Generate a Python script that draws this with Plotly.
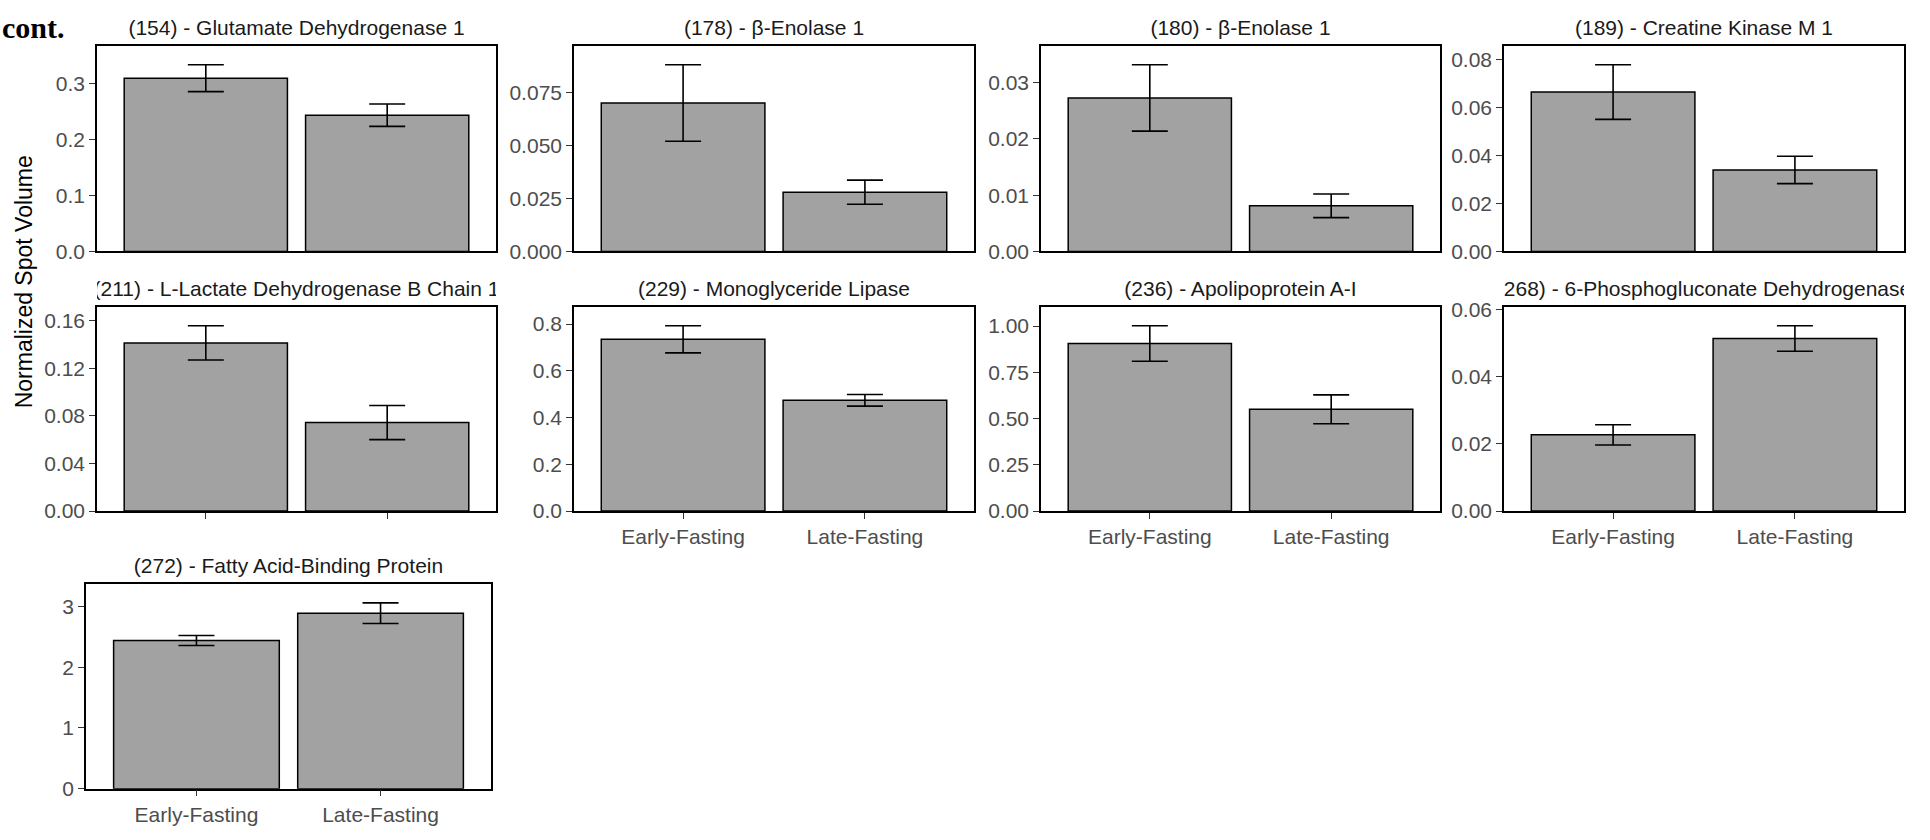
import plotly.graph_objects as go

# ---------------- data ----------------
groups = ["Early-Fasting", "Late-Fasting"]

panel_titles = [
    "(154) - Glutamate Dehydrogenase 1",
    "(178) - β-Enolase 1",
    "(180) - β-Enolase 1",
    "(189) - Creatine Kinase M 1",
    "(211) - L-Lactate Dehydrogenase B Chain 1",
    "(229) - Monoglyceride Lipase",
    "(236) - Apolipoprotein A-I",
    "(268) - 6-Phosphogluconate Dehydrogenase",
    "(272) - Fatty Acid-Binding Protein",
]

mean_early = [0.309, 0.0702, 0.0273, 0.0665, 0.1414, 0.735, 0.906, 0.0227, 2.44]
mean_late = [0.243, 0.0280, 0.0081, 0.0340, 0.0744, 0.474, 0.550, 0.0514, 2.89]
se_early = [0.024, 0.0181, 0.0059, 0.0114, 0.0144, 0.058, 0.096, 0.0030, 0.083]
se_late = [0.020, 0.0057, 0.0021, 0.0057, 0.0143, 0.025, 0.078, 0.0038, 0.170]

ytick_vals = [
    [0, 0.1, 0.2, 0.3],
    [0, 0.025, 0.05, 0.075],
    [0, 0.01, 0.02, 0.03],
    [0, 0.02, 0.04, 0.06, 0.08],
    [0, 0.04, 0.08, 0.12, 0.16],
    [0, 0.2, 0.4, 0.6, 0.8],
    [0, 0.25, 0.5, 0.75, 1.0],
    [0, 0.02, 0.04, 0.06],
    [0, 1, 2, 3],
]
ytick_text = [
    ["0.0", "0.1", "0.2", "0.3"],
    ["0.000", "0.025", "0.050", "0.075"],
    ["0.00", "0.01", "0.02", "0.03"],
    ["0.00", "0.02", "0.04", "0.06", "0.08"],
    ["0.00", "0.04", "0.08", "0.12", "0.16"],
    ["0.0", "0.2", "0.4", "0.6", "0.8"],
    ["0.00", "0.25", "0.50", "0.75", "1.00"],
    ["0.00", "0.02", "0.04", "0.06"],
    ["0", "1", "2", "3"],
]

y_title = "Normalized Spot Volume"
page_label = "cont."

# ---------------- layout geometry (pixels) ----------------
W, H = 1930, 840
col_px = [(97, 496), (574, 974), (1041, 1440), (1504, 1904)]
row_px = [(38, 248.3), (305.5, 514.3), (589.3, 798.7)]
panel_pos = []
for i in range(9):
    r, c = divmod(i, 4)
    xs = col_px[c] if i != 8 else (86, 491)
    panel_pos.append((xs, row_px[r]))

# which panels get x tick marks / labels
x_ticks_on = [False, False, False, False, True, True, True, True, True]
x_labels_on = [False, False, False, False, False, True, True, True, True]

FONT = "Liberation Sans, Arial, sans-serif"
BAR_FILL = "#A2A2A2"
AX_TXT = "#4D4D4D"

fig = go.Figure()
annotations = []
layout_axes = {}

for i in range(9):
    sfx = "" if i == 0 else str(i + 1)
    (x0, x1), (ytop, ybot) = panel_pos[i]
    means = [mean_early[i], mean_late[i]]
    ses = [se_early[i], se_late[i]]
    fig.add_trace(go.Bar(
        x=groups, y=means, width=0.9,
        marker=dict(color=BAR_FILL, line=dict(color="black", width=1.5)),
        error_y=dict(type="data", array=ses, visible=True,
                     color="black", thickness=1.6, width=18),
        xaxis="x" + sfx, yaxis="y" + sfx, showlegend=False,
        hoverinfo="skip",
    ))
    ymax = 1.1 * max(m + s for m, s in zip(means, ses))
    layout_axes["xaxis" + sfx] = dict(
        domain=[x0 / W, x1 / W], anchor="y" + sfx, type="category",
        range=[-0.6, 1.6], showline=True, mirror=True, linecolor="black",
        linewidth=1.6, showgrid=False, zeroline=False,
        ticks="outside" if x_ticks_on[i] else "", ticklen=6, tickwidth=1.3,
        tickcolor="#333333", showticklabels=x_labels_on[i],
        tickfont=dict(family=FONT, size=21, color=AX_TXT), fixedrange=True,
    )
    layout_axes["yaxis" + sfx] = dict(
        domain=[1 - ybot / H, 1 - ytop / H], anchor="x" + sfx,
        range=[0, ymax], showline=True, mirror=True, linecolor="black",
        linewidth=1.6, showgrid=False, zeroline=False,
        tickvals=ytick_vals[i], ticktext=ytick_text[i],
        ticks="outside", ticklen=6, tickwidth=1.3, tickcolor="#333333",
        tickfont=dict(family=FONT, size=21, color=AX_TXT), fixedrange=True,
    )
    annotations.append(dict(
        text=panel_titles[i], xref="paper", yref="paper",
        x=(x0 + x1) / 2 / W, y=1 - (ytop - 5) / H,
        xanchor="center", yanchor="bottom", showarrow=False,
        width=(x1 - x0), align="center",
        font=dict(family=FONT, size=21, color="#1A1A1A"),
    ))

annotations.append(dict(
    text=y_title, xref="paper", yref="paper", x=24 / W, y=1 - 280 / H,
    xanchor="center", yanchor="middle", textangle=-90, showarrow=False,
    font=dict(family=FONT, size=23, color="black"),
))
annotations.append(dict(
    text="<b>" + page_label + "</b>", xref="paper", yref="paper",
    x=0, y=1, xanchor="left", yanchor="top", showarrow=False,
    font=dict(family="Liberation Serif, Times New Roman, serif", size=30,
              color="black"),
))

fig.update_layout(
    width=W, height=H, margin=dict(l=0, r=0, t=0, b=0),
    paper_bgcolor="white", plot_bgcolor="white",
    annotations=annotations, **layout_axes,
)

fig.write_html("out.html")
